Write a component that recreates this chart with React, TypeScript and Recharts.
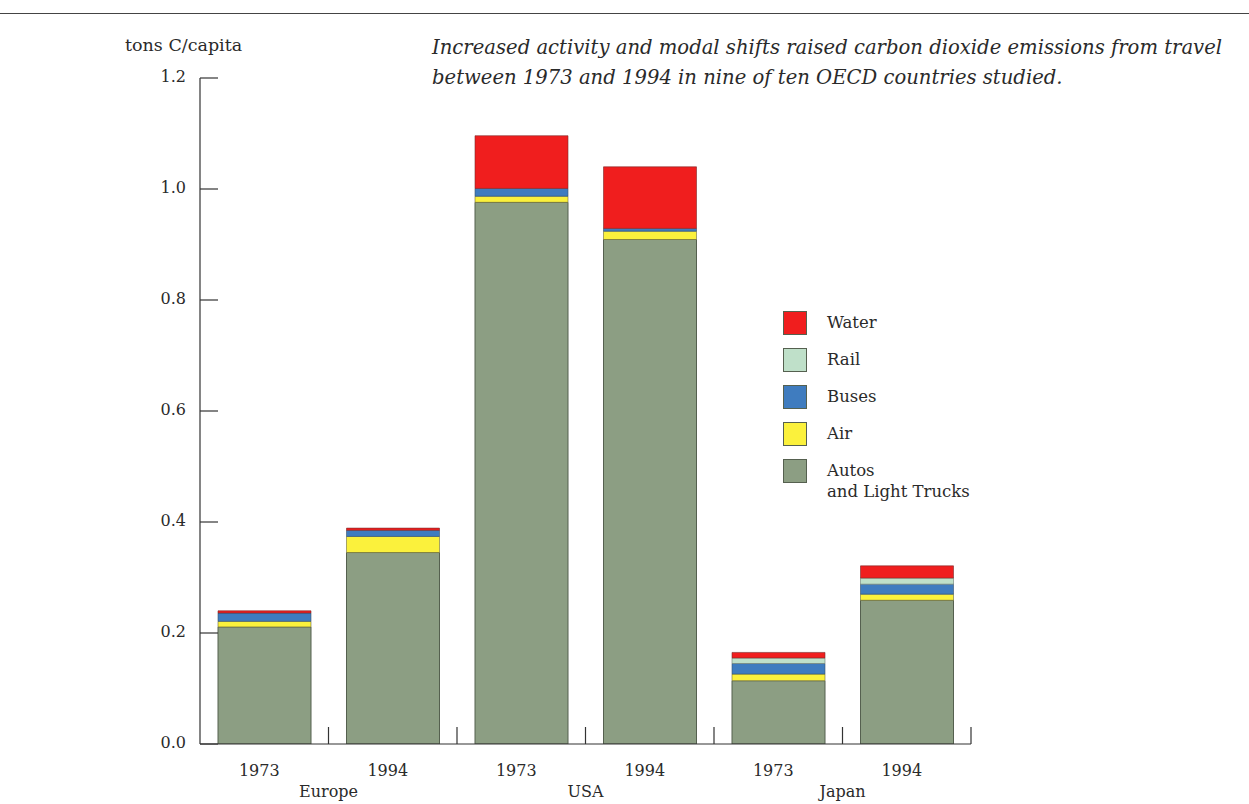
import React from 'react';
import { BarChart, Bar, XAxis, YAxis, Legend } from 'recharts';

// ---- data ----
const years = ['1973', '1994', '1973', '1994', '1973', '1994'];
const regions = ['Europe', 'Europe', 'USA', 'USA', 'Japan', 'Japan'];
const autos = [0.211, 0.345, 0.976, 0.909, 0.114, 0.259];
const air = [0.010, 0.029, 0.011, 0.015, 0.012, 0.011];
const buses = [0.015, 0.011, 0.014, 0.005, 0.019, 0.018];
const rail = [0, 0, 0, 0, 0.010, 0.011];
const water = [0.004, 0.004, 0.095, 0.111, 0.010, 0.022];
const yTicks = [0, 0.2, 0.4, 0.6, 0.8, 1.0, 1.2];
const yTickLabels = ['0.0', '0.2', '0.4', '0.6', '0.8', '1.0', '1.2'];
const seriesNames = {
  autos: 'Autos\nand Light Trucks',
  air: 'Air',
  buses: 'Buses',
  rail: 'Rail',
  water: 'Water',
};
const legendOrder = ['water', 'rail', 'buses', 'air', 'autos'];
const titleLines = [
  'Increased activity and modal shifts raised carbon dioxide emissions from travel',
  'between 1973 and 1994 in nine of ten OECD countries studied.',
];
const yUnit = 'tons C/capita';

const data = years.map((y, i) => ({
  id: `${regions[i]} ${y}`,
  year: y,
  region: regions[i],
  autos: autos[i],
  air: air[i],
  buses: buses[i],
  rail: rail[i],
  water: water[i],
}));

// ---- layout / style ----
const W = 1249;
const H = 804;
const PLOT_LEFT = 200;
const PLOT_RIGHT_MARGIN = 278;
const PLOT_TOP = 78;
const X_AXIS_H = 60;
const BAND = (W - PLOT_LEFT - PLOT_RIGHT_MARGIN) / years.length;
const FONT = '"DejaVu Serif", serif';
const INK = '#333';
const TEXT = '#2a2a2a';
const COLORS = {
  autos: '#8c9e83',
  air: '#fbf13c',
  buses: '#3f7cbf',
  rail: '#bfe0c9',
  water: '#f01e1e',
};

const YTick = (props: any) => {
  const { x, y, payload } = props;
  const label = yTickLabels[yTicks.indexOf(payload.value)] ?? String(payload.value);
  return (
    <g>
      <line x1={x} y1={y} x2={x + 18} y2={y} stroke={INK} strokeWidth={1.2} />
      <text x={x - 14} y={y - 2} dy="0.35em" textAnchor="end" fontFamily={FONT} fontSize={16} fill={TEXT}>
        {label}
      </text>
    </g>
  );
};

const XTick = (props: any) => {
  const { x, y, payload } = props;
  const i = payload.index;
  const d = data[i];
  const isGroupStart = i % 2 === 0;
  return (
    <g>
      <line x1={x + BAND / 2} y1={y} x2={x + BAND / 2} y2={y - 17} stroke={INK} strokeWidth={1.2} />
      <text x={x - 5} y={y + 32} textAnchor="middle" fontFamily={FONT} fontSize={16} fill={TEXT}>
        {d.year}
      </text>
      {isGroupStart && (
        <text x={x + BAND / 2} y={y + 53} textAnchor="middle" fontFamily={FONT} fontSize={16} fill={TEXT}>
          {d.region}
        </text>
      )}
    </g>
  );
};

const LegendContent = (props: any) => {
  const items = [...(props.payload || [])].sort(
    (a: any, b: any) => legendOrder.indexOf(a.dataKey) - legendOrder.indexOf(b.dataKey)
  );
  return (
    <div style={{ fontFamily: FONT, fontSize: 16.5, color: TEXT }}>
      {items.map((it: any) => (
        <div key={it.value} style={{ display: 'flex', alignItems: 'flex-start', minHeight: 37 }}>
          <div
            style={{
              width: 22,
              height: 22,
              background: it.color,
              border: '1px solid #55604f',
              marginRight: 20,
              flex: '0 0 auto',
            }}
          />
          <div style={{ whiteSpace: 'pre-line', lineHeight: '21px', marginTop: 1 }}>{it.value}</div>
        </div>
      ))}
    </div>
  );
};

export default function App() {
  return (
    <div style={{ position: 'absolute', left: 0, top: 0, width: W, height: H, background: '#fff', overflow: 'hidden' }}>
      <div style={{ position: 'absolute', left: 0, top: 13, width: W, height: 0, borderTop: '1.5px solid #444' }} />
      <div
        style={{
          position: 'absolute',
          left: 125,
          top: 35,
          fontFamily: FONT,
          fontSize: 17.5,
          color: TEXT,
          whiteSpace: 'nowrap',
        }}
      >
        {yUnit}
      </div>
      <div
        style={{
          position: 'absolute',
          left: 432,
          top: 33,
          fontFamily: FONT,
          fontStyle: 'italic',
          fontSize: 19.6,
          lineHeight: '30px',
          color: TEXT,
          whiteSpace: 'nowrap',
        }}
      >
        {titleLines.map((t) => (
          <div key={t}>{t}</div>
        ))}
      </div>
      <BarChart
        width={W}
        height={H}
        data={data}
        margin={{ top: PLOT_TOP, right: PLOT_RIGHT_MARGIN, bottom: 0, left: 0 }}
        barSize={93}
      >
        <YAxis
          width={PLOT_LEFT}
          domain={[0, 1.2]}
          ticks={yTicks}
          interval={0}
          tickSize={0}
          tickMargin={0}
          tickLine={false}
          axisLine={{ stroke: INK, strokeWidth: 1.2 }}
          tick={<YTick />}
          allowDataOverflow
        />
        <XAxis
          dataKey="id"
          height={X_AXIS_H}
          interval={0}
          tickSize={0}
          tickMargin={0}
          tickLine={false}
          axisLine={{ stroke: INK, strokeWidth: 1.2 }}
          tick={<XTick />}
        />
        <Legend
          layout="vertical"
          align="center"
          verticalAlign="middle"
          content={<LegendContent />}
          wrapperStyle={{ left: 783, top: 311, width: 240, height: 'auto' }}
        />
        <Bar dataKey="autos" name={seriesNames.autos} stackId="s" fill={COLORS.autos} stroke="#55604f" strokeWidth={1} isAnimationActive={false} />
        <Bar dataKey="air" name={seriesNames.air} stackId="s" fill={COLORS.air} stroke="#6b6a3a" strokeWidth={0.6} isAnimationActive={false} />
        <Bar dataKey="buses" name={seriesNames.buses} stackId="s" fill={COLORS.buses} stroke="#35506a" strokeWidth={0.6} isAnimationActive={false} />
        <Bar dataKey="rail" name={seriesNames.rail} stackId="s" fill={COLORS.rail} stroke="#6a7a70" strokeWidth={0.6} isAnimationActive={false} />
        <Bar dataKey="water" name={seriesNames.water} stackId="s" fill={COLORS.water} stroke="#7a2a2a" strokeWidth={0.6} isAnimationActive={false} />
      </BarChart>
    </div>
  );
}
